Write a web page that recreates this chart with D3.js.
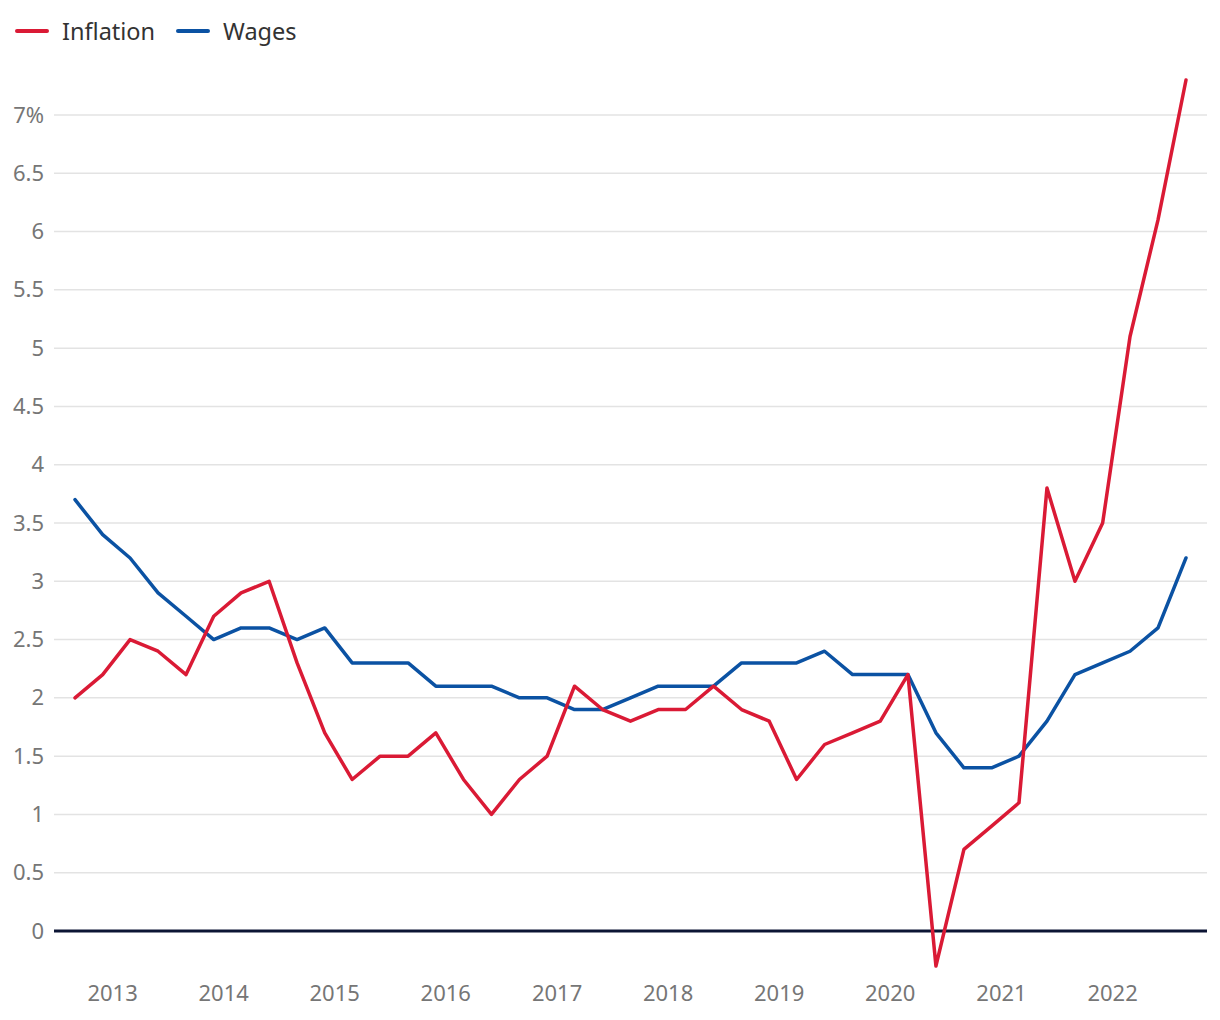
<!DOCTYPE html>
<html>
<head>
<meta charset="utf-8">
<script src="https://cdn.jsdelivr.net/npm/d3@7"></script>
<style>
  html, body { margin: 0; padding: 0; background: #fff; }
  svg { display: block; font-family: "Noto Sans", "Open Sans", sans-serif; }
</style>
</head>
<body>
<svg id="chart" width="1220" height="1020"></svg>
<script>
// Quarterly dates: Sep 2012 .. Sep 2022
const startYear = 2012, startMonth = 8;
const quarterCount = 41;
const inflation = [2.0, 2.2, 2.5, 2.4, 2.2, 2.7, 2.9, 3.0, 2.3, 1.7, 1.3, 1.5, 1.5, 1.7, 1.3, 1.0, 1.3, 1.5, 2.1, 1.9, 1.8, 1.9, 1.9, 2.1, 1.9, 1.8, 1.3, 1.6, 1.7, 1.8, 2.2, -0.3, 0.7, 0.9, 1.1, 3.8, 3.0, 3.5, 5.1, 6.1, 7.3];
const wages = [3.7, 3.4, 3.2, 2.9, 2.7, 2.5, 2.6, 2.6, 2.5, 2.6, 2.3, 2.3, 2.3, 2.1, 2.1, 2.1, 2.0, 2.0, 1.9, 1.9, 2.0, 2.1, 2.1, 2.1, 2.3, 2.3, 2.3, 2.4, 2.2, 2.2, 2.2, 1.7, 1.4, 1.4, 1.5, 1.8, 2.2, 2.3, 2.4, 2.6, 3.2];
const yTicks = [0, 0.5, 1, 1.5, 2, 2.5, 3, 3.5, 4, 4.5, 5, 5.5, 6, 6.5, 7];
const xTickYears = [2013, 2014, 2015, 2016, 2017, 2018, 2019, 2020, 2021, 2022];
const seriesNames = ["Inflation", "Wages"];
const seriesColors = ["#da1a35", "#0b52a3"];

const dates = d3.range(quarterCount).map(i => new Date(startYear, startMonth + i * 3, 1));

const svg = d3.select("#chart");
const x = d3.scaleTime()
  .domain([dates[0], dates[dates.length - 1]])
  .range([75, 1186]);
const y = d3.scaleLinear().domain([-0.3, 7.3]).range([966, 80]);

const gridLeft = 54, gridRight = 1207;

// grid lines
svg.append("g").selectAll("line")
  .data(yTicks.filter(d => d !== 0))
  .join("line")
  .attr("x1", gridLeft).attr("x2", gridRight)
  .attr("y1", d => y(d)).attr("y2", d => y(d))
  .attr("stroke", "#e3e3e3").attr("stroke-width", 1.5);

// y axis labels
const yAxis = d3.axisLeft(y).tickValues(yTicks).tickSize(0).tickPadding(0)
  .tickFormat(d => d === 7 ? "7%" : d3.format("")(d));
const gy = svg.append("g").attr("transform", `translate(44,0)`).call(yAxis);
gy.select(".domain").remove();
gy.selectAll("text").attr("fill", "#767676").style("font-size", "22px")
  .style("font-family", '"Noto Sans", sans-serif');

// x axis labels
const xAxis = d3.axisBottom(x)
  .tickValues(xTickYears.map(yv => new Date(yv, 0, 1)))
  .tickSize(0).tickPadding(0).tickFormat(d3.timeFormat("%Y"));
const gx = svg.append("g").attr("transform", `translate(0,985)`).call(xAxis);
gx.select(".domain").remove();
gx.selectAll("text").attr("fill", "#767676").style("font-size", "22px")
  .style("font-family", '"Noto Sans", sans-serif');

// zero line
svg.append("line")
  .attr("x1", gridLeft).attr("x2", gridRight)
  .attr("y1", y(0)).attr("y2", y(0))
  .attr("stroke", "#0c1534").attr("stroke-width", 3);

// lines
const line = d3.line().x((d, i) => x(dates[i])).y(d => y(d));
[wages, inflation].forEach((s) => {
  const k = s === inflation ? 0 : 1;
  svg.append("path")
    .datum(s)
    .attr("d", line)
    .attr("fill", "none")
    .attr("stroke", seriesColors[k])
    .attr("stroke-width", 3.5)
    .attr("stroke-linejoin", "round")
    .attr("stroke-linecap", "round");
});

// legend
const legendX = [17, 178];
const lg = svg.append("g");
seriesNames.forEach((n, k) => {
  lg.append("line")
    .attr("x1", legendX[k]).attr("x2", legendX[k] + 30)
    .attr("y1", 31).attr("y2", 31)
    .attr("stroke", seriesColors[k]).attr("stroke-width", 4)
    .attr("stroke-linecap", "round");
  lg.append("text")
    .attr("x", legendX[k] + 45).attr("y", 40)
    .attr("fill", "#333")
    .style("font-size", "23.5px")
    .text(n);
});
</script>
</body>
</html>
